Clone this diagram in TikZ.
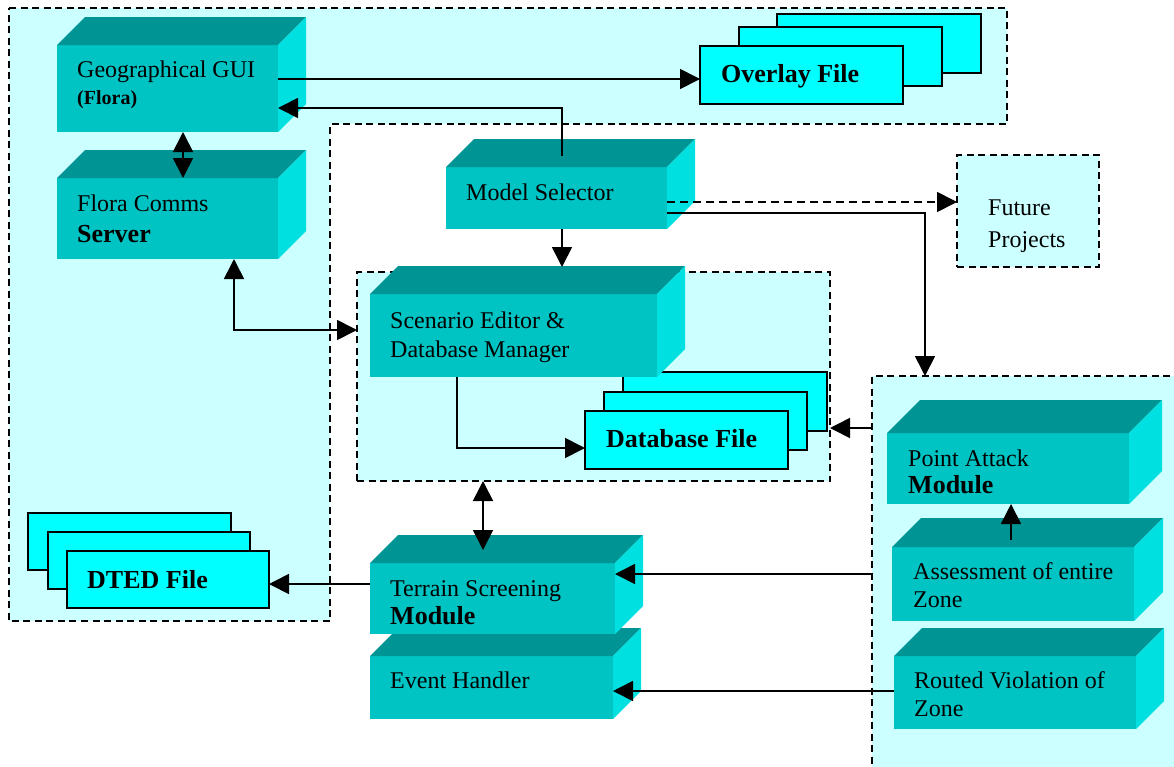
\documentclass[tikz,border=0pt]{standalone}
\usepackage{fontspec}
\setmainfont{Liberation Serif}
\usetikzlibrary{arrows.meta,calc}
\definecolor{regionfill}{HTML}{CCFFFF}
\definecolor{cubefront}{HTML}{00C4C4}
\definecolor{cubetop}{HTML}{009494}
\definecolor{cubeside}{HTML}{00E0E0}
\definecolor{filefill}{HTML}{00FFFF}
\tikzset{
  >={Triangle[length=20pt,width=20pt]},
  region/.style={fill=regionfill, draw=black, line width=1.8pt, dash pattern=on 7pt off 4.5pt},
  regionnode/.style={region, anchor=north west, inner sep=0pt, outer sep=0pt},
  filecard/.style={fill=filefill, draw=black, line width=2pt, anchor=north west, inner sep=0pt, outer sep=0pt},
  cubefrontst/.style={fill=cubefront, anchor=north west, inner sep=0pt, outer sep=0pt},
  lbl/.style={anchor=base west, inner sep=0pt, font=\fontsize{24}{28}\selectfont},
  lblb/.style={anchor=base west, inner sep=0pt, font=\fontsize{26}{30}\selectfont\bfseries},
  lbls/.style={anchor=base west, inner sep=0pt, font=\fontsize{20}{24}\selectfont\bfseries},
  conn/.style={line width=1.7pt, ->},
  dconn/.style={line width=1.7pt, <->},
  dashconn/.style={line width=1.7pt, ->, dash pattern=on 8pt off 5pt},
}
% #1 style, #2 name, #3 x1, #4 y1, #5 x2, #6 y2
\newcommand{\boxat}[6][]{\node[#1, minimum width={#5-#3}, minimum height={#6-#4}] (#2) at (#3,#4) {};}
% #1 name, #2 x1, #3 y1, #4 x2, #5 y2, #6 depth
\newcommand{\cubeat}[6]{%
  \boxat[cubefrontst]{#1}{#2}{#3}{#4}{#5}
  \fill[cubetop] (#1.north west) -- ++(#6,-#6) -- ++(#4-#2,0) -- (#1.north east) -- cycle;
  \fill[cubeside] (#1.north east) -- ++(#6,-#6) -- ++(0,#5-#3) -- (#1.south east) -- cycle;
}
\begin{document}
\begin{tikzpicture}[x=1pt,y=-1pt]
\useasboundingbox[fill=white] (0,0) rectangle (1174,766);

% regions
\filldraw[region] (9,8) -- (1007,8) -- (1007,124) -- (330,124) -- (330,621) -- (9,621) -- cycle;
\boxat[regionnode]{fut}{957}{155}{1099}{267}
\boxat[regionnode]{scenreg}{357}{272}{830}{481}
\boxat[regionnode]{pareg}{872}{376}{1200}{800}

% file stacks
\boxat[filecard]{ovl3}{777}{14}{981}{73}
\boxat[filecard]{ovl2}{739}{27}{942}{86}
\boxat[filecard]{ovl}{700}{46}{903}{104}
\boxat[filecard]{db3}{623}{372}{827}{431}
\boxat[filecard]{db2}{604}{392}{807}{450}
\boxat[filecard]{db}{585}{411}{788}{469}
\boxat[filecard]{dted3}{28}{513}{231}{570}
\boxat[filecard]{dted2}{48}{532}{250}{589}
\boxat[filecard]{dted}{67}{551}{269}{608}

% cubes
\cubeat{gui}{57}{45}{278}{132}{28}
\cubeat{srv}{57}{178}{278}{259}{28}
\cubeat{model}{446}{167}{667}{229}{28}
\cubeat{scen}{370}{294}{657}{377}{28}
\cubeat{evt}{370}{656}{613}{719}{28}
\cubeat{terr}{370}{563}{615}{634}{28}
\cubeat{pa}{887}{433}{1129}{504}{33}
\cubeat{ass}{892}{547}{1134}{621}{29}
\cubeat{rv}{894}{656}{1136}{729}{28}

% labels
\node[lbl] (guil1) at (77,77) {Geographical GUI};
\node[lbls] (guil2) at (77,104) {(Flora)};
\node[lbl] (srvl1) at (77,211) {Flora Comms};
\node[lblb] (srvl2) at (77,242) {Server};
\node[lbl] (modell) at (466,200) {Model Selector};
\node[lbl] (scenl1) at (390,328) {Scenario Editor \&};
\node[lbl] (scenl2) at (390,357) {Database Manager};
\node[lblb] (ovll) at (721,82) {Overlay File};
\node[lblb] (dbl) at (606,447) {Database File};
\node[lblb] (dtedl) at (87,588) {DTED File};
\node[lbl] (futl1) at (988,215) {Future};
\node[lbl] (futl2) at (988,247) {Projects};
\node[lbl] (terrl1) at (390,596) {Terrain Screening};
\node[lblb] (terrl2) at (390,624) {Module};
\node[lbl] (evtl) at (390,688) {Event Handler};
\node[lbl] (pal1) at (908,466) {Point Attack};
\node[lblb] (pal2) at (908,493) {Module};
\node[lbl] (assl1) at (913,579) {Assessment of entire};
\node[lbl] (assl2) at (913,607) {Zone};
\node[lbl] (rvl1) at (914,688) {Routed Violation of};
\node[lbl] (rvl2) at (914,716) {Zone};

% connectors
\draw[dconn] ($(gui.south west)+(126,0)$) -- ($(srv.north west)+(126,0)$);
\draw[conn] ($(gui.north east)+(0,34)$) -- ($(ovl.north west)+(0,33)$);
\draw[conn] ($(model.north west)+(116,-11)$) |- ($(gui.north east)+(0,63)$);
\draw[conn] ($(model.south west)+(116,0)$) -- ($(scen.north west)+(192,-27)$);
\draw[dashconn] ($(model.north east)+(0,35)$) -- ($(fut.north west)+(0,47)$);
\draw[conn] ($(model.north east)+(0,46)$) -| ($(pareg.north west)+(53,0)$);
\draw[conn] ($(scen.south west)+(87,0)$) |- ($(db.north west)+(0,37)$);
\draw[conn] ($(pareg.north west)+(0,52)$) -- ($(scenreg.north east)+(0,156)$);
\draw[dconn] ($(srv.south west)+(177,0)$) |- ($(scenreg.north west)+(0,58)$);
\draw[dconn] ($(scenreg.south west)+(126,0)$) -- ($(terr.north west)+(113,-13)$);
\draw[conn] ($(terr.north west)+(0,21)$) -- ($(dted.north east)+(0,33)$);
\draw[conn] ($(pareg.north west)+(0,198)$) -- ($(terr.north east)+(0,11)$);
\draw[conn] ($(rv.north west)+(0,35)$) -- ($(evt.north east)+(0,35)$);
\draw[conn] ($(ass.north west)+(119,-7)$) -- ($(pa.south west)+(124,0)$);
\end{tikzpicture}
\end{document}
